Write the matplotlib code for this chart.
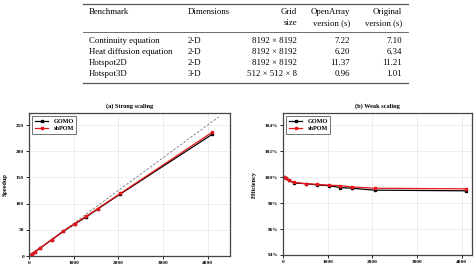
import matplotlib.pyplot as plt

plt.rcParams['font.family'] = ['Liberation Serif', 'DejaVu Serif']

# Table data
benchmarks = ['Continuity equation', 'Heat diffusion equation', 'Hotspot2D', 'Hotspot3D']
dimensions = ['2-D', '2-D', '2-D', '3-D']
grid_sizes = ['8192 \u00d7 8192', '8192 \u00d7 8192', '8192 \u00d7 8192', '512 \u00d7 512 \u00d7 8']
openarray_times = [7.22, 6.20, 11.37, 0.96]
original_times = [7.10, 6.34, 11.21, 1.01]

# Scaling data
procs = [16, 64, 128, 256, 512, 768, 1024, 1280, 1536, 2048, 4096]
speedup_gomo = [1, 4, 8, 15.5, 31, 47, 61, 74.5, 89.5, 118.5, 232]
speedup_shpom = [1, 4, 8, 15.8, 31.5, 47.5, 62, 75.5, 90.5, 119.5, 236]
ideal_x = [0, 4250]
ideal_y = [0, 4250 / 16]
eff_gomo = [100.0, 99.9, 99.75, 99.55, 99.5, 99.4, 99.35, 99.2, 99.15, 99.0, 98.95]
eff_shpom = [100.0, 99.9, 99.75, 99.6, 99.5, 99.45, 99.38, 99.35, 99.25, 99.15, 99.1]

fig = plt.figure(figsize=(4.74, 2.67), dpi=100)
W, H = 474, 267


def fx(px):
    return px / W


def fy(py):
    return 1 - py / H


# ---- table ----
fs = 6.3
line_col = '#555555'
for y, lw in [(4, 0.9), (32, 0.6), (83, 0.9)]:
    fig.add_artist(plt.Line2D([fx(83), fx(408)], [fy(y), fy(y)], color=line_col, lw=lw))

fig.text(fx(89), fy(12), 'Benchmark', fontsize=fs, va='center', ha='left')
fig.text(fx(188), fy(12), 'Dimensions', fontsize=fs, va='center', ha='left')
fig.text(fx(297), fy(12), 'Grid', fontsize=fs, va='center', ha='right')
fig.text(fx(297), fy(23), 'size', fontsize=fs, va='center', ha='right')
fig.text(fx(350), fy(12), 'OpenArray', fontsize=fs, va='center', ha='right')
fig.text(fx(350), fy(23), 'version (s)', fontsize=fs, va='center', ha='right')
fig.text(fx(402), fy(12), 'Original', fontsize=fs, va='center', ha='right')
fig.text(fx(402), fy(23), 'version (s)', fontsize=fs, va='center', ha='right')

for i in range(len(benchmarks)):
    y = fy(41 + 11 * i)
    fig.text(fx(89), y, benchmarks[i], fontsize=fs, va='center', ha='left')
    fig.text(fx(188), y, dimensions[i], fontsize=fs, va='center', ha='left')
    fig.text(fx(297), y, grid_sizes[i], fontsize=fs, va='center', ha='right')
    fig.text(fx(350), y, f'{openarray_times[i]:.2f}', fontsize=fs, va='center', ha='right')
    fig.text(fx(402), y, f'{original_times[i]:.2f}', fontsize=fs, va='center', ha='right')

# ---- charts ----
ax1 = fig.add_axes([fx(29), fy(256), fx(230 - 29), (256 - 113) / H])
ax2 = fig.add_axes([fx(283), fy(255), fx(472 - 283), (255 - 113) / H])

tfs = 3.8
for ax in (ax1, ax2):
    ax.grid(True, color='#e6e6e6', lw=0.5)
    ax.set_axisbelow(True)
    for s in ax.spines.values():
        s.set_color('#444444')
        s.set_linewidth(0.9)
    ax.tick_params(labelsize=tfs, length=2, width=0.6, pad=1.5)

ax1.plot(ideal_x, ideal_y, ls='--', color='#777777', lw=0.6, dashes=(3, 2))
ax1.plot(procs, speedup_gomo, color='black', marker='s', ms=2.1, lw=0.9, label='GOMO')
ax1.plot(procs, speedup_shpom, color='#e8141c', marker='s', ms=2.1, lw=0.9, label='shPOM')
ax1.set_xlim(0, 4500)
ax1.set_ylim(0, 273)
ax1.set_xticks([0, 1000, 2000, 3000, 4000])
ax1.set_yticks([0, 50, 100, 150, 200, 250])
ax1.set_ylabel('Speedup', fontsize=4.5, fontweight='bold', labelpad=6)
ax1.set_title('(a) Strong scaling', fontsize=4.5, fontweight='bold', pad=4)

ax2.plot(procs, eff_gomo, color='black', marker='s', ms=2.1, lw=0.9, label='GOMO')
ax2.plot(procs, eff_shpom, color='#e8141c', marker='s', ms=2.1, lw=0.9, label='shPOM')
ax2.set_xlim(0, 4230)
ax2.set_ylim(94, 104.95)
ax2.set_xticks([0, 1000, 2000, 3000, 4000])
ax2.set_yticks([94, 96, 98, 100, 102, 104])
ax2.set_yticklabels([f'{v}%' for v in [94, 96, 98, 100, 102, 104]])
ax2.set_ylabel('Efficiency', fontsize=4.5, fontweight='bold', labelpad=6)
ax2.set_title('(b) Weak scaling', fontsize=4.5, fontweight='bold', pad=4)

for ax in (ax1, ax2):
    for lab in ax.get_xticklabels() + ax.get_yticklabels():
        lab.set_fontweight('bold')
    leg = ax.legend(loc='upper left', frameon=True, fancybox=False,
                    handlelength=2.2, borderpad=0.4, labelspacing=0.3,
                    prop={'weight': 'bold', 'size': 4.5})
    leg.get_frame().set_edgecolor('#333333')
    leg.get_frame().set_linewidth(0.6)

plt.savefig('out.png', dpi=100)
